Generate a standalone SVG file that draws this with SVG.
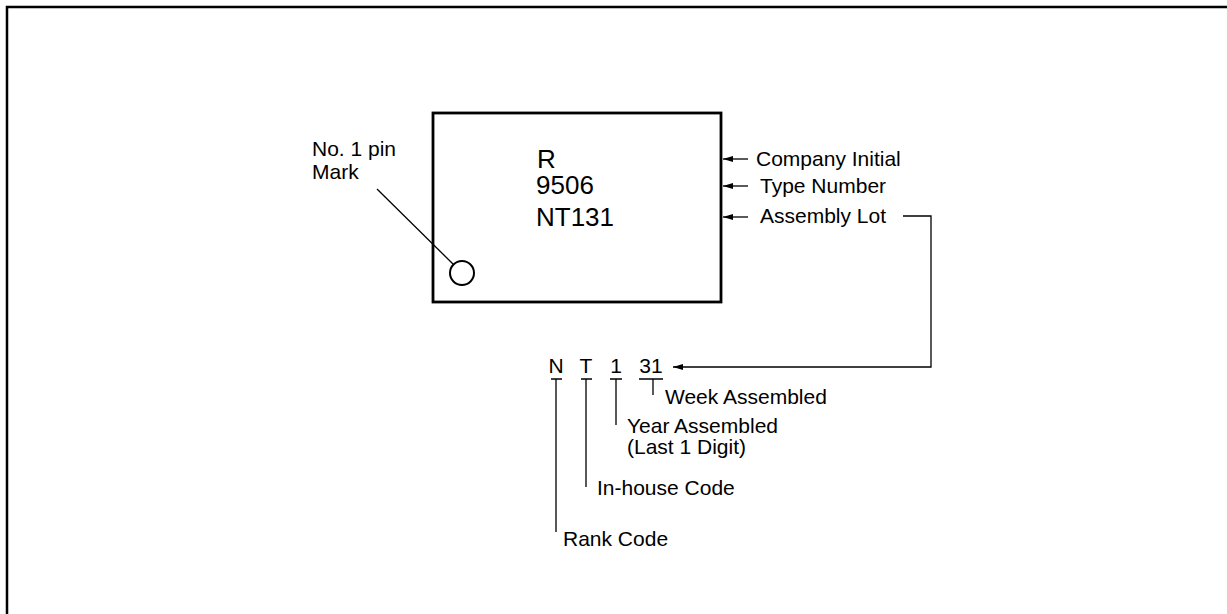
<svg xmlns="http://www.w3.org/2000/svg" width="1227" height="614" viewBox="0 0 1227 614">
<style>
text{font-family:"Liberation Sans",Arial,sans-serif;font-size:21px;fill:#000}
.big{font-size:26px}
.ln{fill:none;stroke:#000;stroke-width:1.3}
</style>
<defs>
<marker id="ah" viewBox="0 0 10 6" refX="10" refY="3" markerWidth="10" markerHeight="6" markerUnits="userSpaceOnUse" orient="auto">
<path d="M0,0 L10,3 L0,6 Z" fill="#000"/>
</marker>
</defs>
<rect width="1227" height="614" fill="#fff"/>
<path d="M7,614 V7 H1227" fill="none" stroke="#000" stroke-width="2.5"/>
<g id="package">
<rect x="433" y="113" width="288" height="189" fill="none" stroke="#000" stroke-width="2.8"/>
<circle cx="462" cy="273" r="12" fill="none" stroke="#000" stroke-width="2"/>
<text class="big" x="537" y="168">R</text>
<text class="big" x="536" y="194">9506</text>
<text class="big" x="536" y="226">NT131</text>
</g>
<g id="pin-label">
<text x="312" y="156">No. 1 pin</text>
<text x="312" y="179">Mark</text>
</g>
<g id="right-labels">
<text x="756" y="166">Company Initial</text>
<text x="760" y="193">Type Number</text>
<text x="760" y="223">Assembly Lot</text>
</g>
<g id="lot-code">
<text x="556" y="373" text-anchor="middle">N</text>
<text x="586" y="373" text-anchor="middle">T</text>
<text x="616" y="373" text-anchor="middle">1</text>
<text x="651" y="373" text-anchor="middle">31</text>
</g>
<g id="code-labels">
<text x="665" y="404">Week Assembled</text>
<text x="627" y="433">Year Assembled</text>
<text x="627" y="454">(Last 1 Digit)</text>
<text x="597" y="495">In-house Code</text>
<text x="563" y="546">Rank Code</text>
</g>
<g id="connectors">
<path class="ln" d="M377,189 L453.5,264.5"/>
<path class="ln" d="M748,159 H723" marker-end="url(#ah)"/>
<path class="ln" d="M748,186 H723" marker-end="url(#ah)"/>
<path class="ln" d="M748,217 H723" marker-end="url(#ah)"/>
<path class="ln" d="M903,216 H931 V367 H673" marker-end="url(#ah)"/>
<path class="ln" d="M551,379 H562 M556,379 V532"/>
<path class="ln" d="M581,379 H592 M586,379 V487"/>
<path class="ln" d="M610,379 H622 M616,379 V425"/>
<path class="ln" d="M639,379 H663 M653,379 V395"/>
</g>
</svg>
